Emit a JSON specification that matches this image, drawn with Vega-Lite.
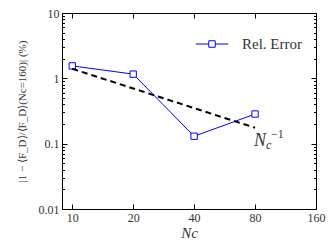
{
  "$schema": "https://vega.github.io/schema/vega-lite/v6.json",
  "width": 254,
  "height": 196,
  "autosize": {"type": "none"},
  "padding": {"left": 62, "top": 13, "right": 16, "bottom": 40},
  "config": {
    "view": {"stroke": "black", "strokeWidth": 1},
    "font": "Liberation Serif",
    "axis": {
      "domain": false,
      "grid": false,
      "labelFont": "Liberation Serif",
      "labelFontSize": 12,
      "labelColor": "#333",
      "tickColor": "black",
      "titleFont": "Liberation Serif",
      "titleFontWeight": "normal",
      "titleColor": "#333"
    },
    "legend": {"labelFont": "Liberation Serif"}
  },
  "datasets": {
    "rel": [
      {"Nc": 10, "err": 1.55, "series": "Rel. Error"},
      {"Nc": 20, "err": 1.16, "series": "Rel. Error"},
      {"Nc": 40, "err": 0.13, "series": "Rel. Error"},
      {"Nc": 80, "err": 0.284, "series": "Rel. Error"}
    ],
    "fit": [
      {"Nc": 10, "err": 1.4},
      {"Nc": 80, "err": 0.175}
    ],
    "lab": [
      {"Nc": 79, "err": 0.092, "main": "N", "sub": "c", "sup": "−1"}
    ]
  },
  "layer": [
    {
      "data": {"name": "rel"},
      "encoding": {
        "x": {
          "field": "Nc", "type": "quantitative",
          "scale": {"type": "log", "domain": [8.9, 160], "nice": false},
          "axis": {
            "orient": "bottom",
            "values": [10, 20, 40, 80, 160],
            "format": "d",
            "tickSize": -5,
            "labelPadding": 8,
            "labelFlush": false,
            "labelOverlap": false,
            "title": "Nc",
            "titleFontStyle": "italic",
            "titleFontSize": 15,
            "titlePadding": 2
          }
        },
        "y": {
          "field": "err", "type": "quantitative",
          "scale": {"type": "log", "domain": [0.01, 10], "nice": false},
          "axis": {
            "orient": "left",
            "values": [0.01, 0.02, 0.03, 0.04, 0.05, 0.06, 0.07, 0.08, 0.09, 0.1, 0.2, 0.3, 0.4, 0.5, 0.6, 0.7, 0.8, 0.9, 1, 2, 3, 4, 5, 6, 7, 8, 9, 10],
            "format": "~g",
            "labelExpr": "abs(log(datum.value)/LN10 - round(log(datum.value)/LN10)) < 0.000001 ? datum.label : ''",
            "tickSize": {"condition": {"test": "abs(log(datum.value)/LN10 - round(log(datum.value)/LN10)) < 0.000001", "value": -5}, "value": -2.5},
            "labelPadding": 8,
            "labelFlush": false,
            "labelOverlap": false,
            "title": "|1 − ⟨F_D⟩/⟨F_D⟩(Nc=160)| (%)",
            "titleFontSize": 11,
            "titlePadding": 11
          }
        }
      },
      "layer": [
        {"mark": {"type": "line", "color": "#0000ff", "strokeWidth": 1}},
        {
          "mark": {"type": "point", "shape": "square", "filled": true, "fill": "white", "strokeWidth": 1, "size": 40, "opacity": 1},
          "encoding": {
            "stroke": {
              "field": "series", "type": "nominal",
              "scale": {"range": ["#0000ff"]},
              "legend": {
                "title": null,
                "orient": "top-right",
                "offset": 14,
                "symbolType": "M-1,0L-0.2,0M0.2,0L1,0M-0.2,-0.2L0.2,-0.2L0.2,0.2L-0.2,0.2Z",
                "symbolSize": 1050,
                "symbolStrokeWidth": 1,
                "symbolFillColor": "white",
                "labelFont": "Liberation Serif",
                "labelFontSize": 15,
                "labelColor": "#333",
                "labelOffset": 13
              }
            }
          }
        }
      ]
    },
    {
      "data": {"name": "fit"},
      "mark": {"type": "line", "color": "black", "strokeWidth": 2, "strokeDash": [6, 4]},
      "encoding": {
        "x": {
          "field": "Nc", "type": "quantitative",
          "scale": {"type": "log", "domain": [8.9, 160], "nice": false},
          "axis": {"orient": "top", "values": [10, 20, 40, 80, 160], "tickSize": -5, "labels": false, "title": null}
        },
        "y": {
          "field": "err", "type": "quantitative",
          "scale": {"type": "log", "domain": [0.01, 10], "nice": false},
          "axis": {
            "orient": "right",
            "values": [0.01, 0.02, 0.03, 0.04, 0.05, 0.06, 0.07, 0.08, 0.09, 0.1, 0.2, 0.3, 0.4, 0.5, 0.6, 0.7, 0.8, 0.9, 1, 2, 3, 4, 5, 6, 7, 8, 9, 10],
            "tickSize": {"condition": {"test": "abs(log(datum.value)/LN10 - round(log(datum.value)/LN10)) < 0.000001", "value": -5}, "value": -2.5},
            "labels": false,
            "title": null
          }
        }
      }
    },
    {
      "data": {"name": "lab"},
      "encoding": {
        "x": {"field": "Nc", "type": "quantitative", "scale": {"type": "log", "domain": [8.9, 160], "nice": false}, "axis": null},
        "y": {"field": "err", "type": "quantitative", "scale": {"type": "log", "domain": [0.01, 10], "nice": false}, "axis": null}
      },
      "layer": [
        {"mark": {"type": "text", "align": "left", "baseline": "alphabetic", "font": "Liberation Serif", "fontStyle": "italic", "fontSize": 18, "color": "#333"}, "encoding": {"text": {"field": "main"}}},
        {"mark": {"type": "text", "align": "left", "baseline": "alphabetic", "font": "Liberation Serif", "fontStyle": "italic", "fontSize": 12, "color": "#333", "dx": 12, "dy": 3}, "encoding": {"text": {"field": "sub"}}},
        {"mark": {"type": "text", "align": "left", "baseline": "alphabetic", "font": "Liberation Serif", "fontSize": 12, "color": "#333", "dx": 17, "dy": -8}, "encoding": {"text": {"field": "sup"}}}
      ]
    }
  ],
  "resolve": {"scale": {"x": "independent", "y": "independent", "stroke": "independent"}}
}
